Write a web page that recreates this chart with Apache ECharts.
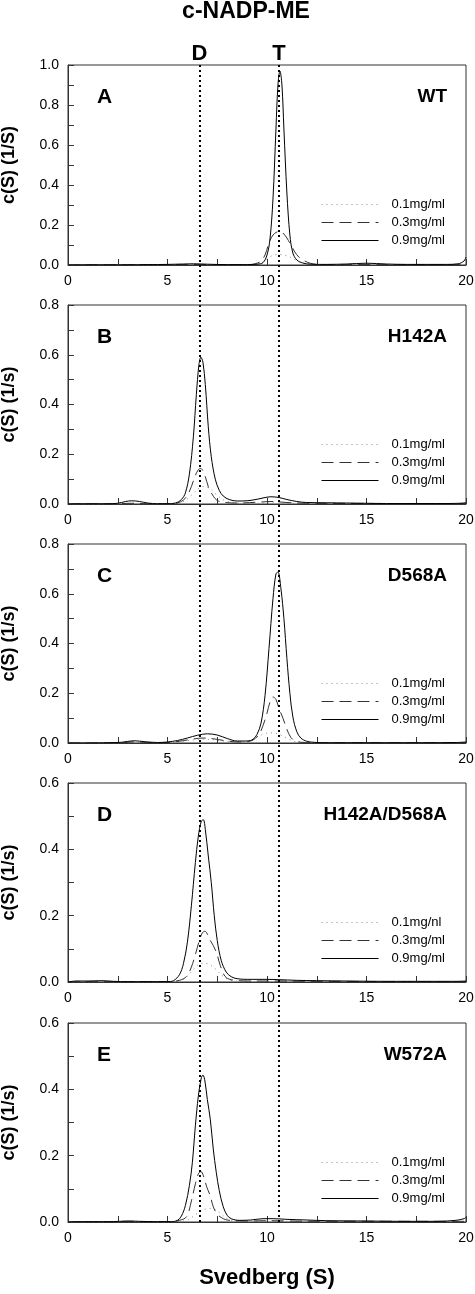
<!DOCTYPE html>
<html>
<head>
<meta charset="utf-8">
<script src="https://cdn.jsdelivr.net/npm/echarts@6/dist/echarts.min.js"></script>
<style>
html,body{margin:0;padding:0;background:#fff;}
#chart{width:475px;height:1294px;}
</style>
</head>
<body>
<div id="chart"></div>
<script>
// ---------- DATA ----------
const mainTitle = 'c-NADP-ME';
const xAxisName = 'Svedberg (S)';
const panelLetters = ['A', 'B', 'C', 'D', 'E'];
const panelNames = ['WT', 'H142A', 'D568A', 'H142A/D568A', 'W572A'];
const yAxisNames = ['c(S) (1/S)', 'c(S) (1/s)', 'c(S) (1/s)', 'c(S) (1/s)', 'c(S) (1/s)'];
const yMax = [1.0, 0.8, 0.8, 0.6, 0.6];
const xTicks = [0, 5, 10, 15, 20];
const legendNames = [
  ['0.1mg/ml', '0.3mg/ml', '0.9mg/ml'],
  ['0.1mg/ml', '0.3mg/ml', '0.9mg/ml'],
  ['0.1mg/ml', '0.3mg/ml', '0.9mg/ml'],
  ['0.1mg/nl', '0.3mg/ml', '0.9mg/ml'],
  ['0.1mg/ml', '0.3mg/ml', '0.9mg/ml']
];
const markerPositions = [6.6, 10.6];
const markerLabels = ['D', 'T'];

// Panel A (WT)
const wt_01 = [[0,0],[5,0.001],[6.5,0.002],[8,0.001],[9.4,0.002],[9.7,0.01],[9.9,0.025],[10.1,0.038],[10.3,0.048],[10.6,0.053],[10.9,0.048],[11.2,0.038],[11.5,0.022],[11.8,0.01],[12.1,0.003],[13,0.001],[20,0.002]];
const wt_03 = [[0,0],[3,0.001],[6,0.002],[6.5,0.003],[7.5,0.001],[9,0.002],[9.4,0.006],[9.7,0.02],[9.9,0.05],[10.1,0.11],[10.3,0.15],[10.5,0.165],[10.65,0.168],[10.8,0.16],[11.0,0.135],[11.2,0.1],[11.4,0.065],[11.6,0.04],[11.9,0.02],[12.2,0.008],[12.6,0.002],[13,0.001],[15,0.002],[17,0.001],[20,0.002]];
const wt_09 = [[0,0],[1,0.001],[2,0.001],[3,0.001],[4,0.002],[5,0.003],[5.8,0.005],[6.3,0.006],[7,0.004],[8,0.002],[9,0.002],[9.5,0.004],[9.8,0.012],[10.0,0.05],[10.15,0.13],[10.3,0.33],[10.45,0.68],[10.55,0.9],[10.65,0.97],[10.75,0.9],[10.85,0.68],[11.0,0.36],[11.15,0.15],[11.3,0.06],[11.5,0.025],[11.8,0.01],[12.2,0.004],[13,0.003],[14,0.005],[15,0.009],[16,0.005],[17,0.003],[18,0.003],[19,0.003],[19.6,0.006],[19.9,0.02],[20,0.04]];

// Panel B (H142A)
const h142_01 = [[0,0],[5,0.001],[5.6,0.005],[5.9,0.015],[6.2,0.035],[6.5,0.058],[6.8,0.07],[7.1,0.063],[7.4,0.042],[7.7,0.022],[8.0,0.01],[8.5,0.004],[9.5,0.003],[10.5,0.004],[12,0.002],[20,0.001]];
const h142_03 = [[0,0],[2.5,0.001],[3.2,0.003],[4,0.001],[5,0.001],[5.5,0.004],[5.8,0.016],[6.0,0.035],[6.2,0.07],[6.4,0.115],[6.55,0.138],[6.65,0.143],[6.75,0.138],[6.9,0.11],[7.05,0.07],[7.2,0.045],[7.47,0.016],[7.8,0.007],[8.5,0.004],[9.5,0.007],[10.2,0.01],[11,0.006],[12,0.003],[14,0.002],[20,0.002]];
const h142_09 = [[0,0],[0.5,0.001],[1,0.001],[2,0.001],[2.5,0.003],[2.9,0.01],[3.2,0.013],[3.6,0.01],[4.0,0.004],[4.5,0.001],[5.0,0.001],[5.4,0.004],[5.7,0.018],[5.9,0.045],[6.1,0.12],[6.3,0.27],[6.45,0.44],[6.58,0.56],[6.68,0.59],[6.78,0.57],[6.9,0.48],[7.05,0.31],[7.2,0.19],[7.4,0.1],[7.6,0.055],[7.8,0.032],[8.1,0.018],[8.5,0.012],[9.0,0.013],[9.5,0.019],[9.9,0.026],[10.2,0.029],[10.6,0.026],[11.0,0.018],[11.5,0.01],[12,0.006],[13,0.005],[14,0.004],[15,0.003],[16,0.002],[17,0.002],[18,0.002],[19,0.002],[19.7,0.003],[20,0.005]];

// Panel C (D568A)
const d568_01 = [[0,0],[3,0.001],[3.5,0.003],[4.5,0.002],[5.5,0.005],[6.3,0.012],[6.9,0.015],[7.5,0.011],[8.2,0.005],[8.8,0.005],[9.2,0.012],[9.6,0.028],[9.9,0.038],[10.2,0.041],[10.5,0.038],[10.8,0.028],[11.1,0.015],[11.4,0.006],[11.8,0.002],[13,0.001],[20,0.001]];
const d568_03 = [[0,0],[2.8,0.001],[3.3,0.005],[4,0.002],[5,0.002],[5.6,0.007],[6.2,0.015],[6.8,0.02],[7.3,0.017],[8,0.008],[8.6,0.004],[9.0,0.006],[9.3,0.012],[9.6,0.035],[9.8,0.07],[10.0,0.12],[10.15,0.165],[10.3,0.185],[10.45,0.175],[10.6,0.14],[10.8,0.1],[11.0,0.055],[11.2,0.022],[11.4,0.009],[11.7,0.003],[12.5,0.001],[20,0.001]];
const d568_09 = [[0,0],[1,0],[2,0.001],[2.7,0.003],[3.3,0.009],[3.9,0.005],[4.5,0.002],[5.0,0.004],[5.5,0.01],[6.0,0.02],[6.5,0.031],[7.0,0.037],[7.5,0.032],[8.0,0.018],[8.5,0.008],[9.0,0.008],[9.3,0.015],[9.5,0.035],[9.7,0.08],[9.9,0.19],[10.1,0.38],[10.3,0.58],[10.45,0.68],[10.55,0.687],[10.7,0.62],[10.85,0.5],[11.0,0.34],[11.15,0.2],[11.3,0.105],[11.5,0.045],[11.7,0.02],[12.0,0.007],[12.5,0.002],[13,0.001],[15,0.001],[18,0.001],[19.5,0.002],[20,0.004]];

// Panel D (H142A/D568A)
const dbl_01 = [[0,0],[5,0.001],[5.6,0.004],[5.9,0.012],[6.2,0.03],[6.5,0.05],[6.8,0.057],[7.1,0.053],[7.4,0.04],[7.7,0.022],[8.0,0.009],[8.4,0.003],[10,0.002],[20,0.001]];
const dbl_03 = [[0,0],[1.5,0.001],[5,0.001],[5.6,0.005],[5.96,0.017],[6.2,0.045],[6.42,0.087],[6.6,0.125],[6.75,0.148],[6.88,0.153],[7.0,0.145],[7.15,0.125],[7.3,0.11],[7.47,0.087],[7.65,0.05],[7.89,0.017],[8.2,0.007],[9,0.003],[10.5,0.003],[12,0.002],[20,0.001]];
const dbl_09 = [[0,0],[0.4,0.003],[1,0.003],[1.7,0.004],[2.3,0.002],[3,0.001],[4,0.001],[5,0.001],[5.3,0.004],[5.6,0.022],[5.8,0.055],[6.0,0.12],[6.2,0.23],[6.4,0.36],[6.55,0.44],[6.7,0.485],[6.8,0.489],[6.9,0.46],[7.05,0.38],[7.2,0.3],[7.35,0.2],[7.5,0.125],[7.7,0.065],[7.95,0.03],[8.2,0.016],[8.5,0.01],[9,0.008],[9.5,0.008],[10,0.008],[10.6,0.007],[11.5,0.005],[12.5,0.004],[14,0.003],[16,0.002],[18,0.002],[19.5,0.002],[20,0.003]];

// Panel E (W572A)
const w572_01 = [[0,0],[5.5,0.001],[6.0,0.006],[6.3,0.017],[6.6,0.03],[6.9,0.039],[7.15,0.041],[7.4,0.037],[7.7,0.024],[8.0,0.01],[8.3,0.004],[9,0.002],[10,0.003],[12,0.002],[20,0.001]];
const w572_03 = [[0,0],[2,0.001],[3,0.002],[4,0.001],[5.2,0.001],[5.6,0.005],[5.96,0.016],[6.21,0.066],[6.4,0.115],[6.55,0.145],[6.68,0.152],[6.8,0.14],[6.97,0.106],[7.14,0.08],[7.3,0.046],[7.45,0.028],[7.64,0.016],[8.0,0.006],[9,0.003],[10,0.004],[11,0.003],[13,0.002],[20,0.002]];
const w572_09 = [[0,0],[0.5,0.001],[2,0.001],[2.6,0.002],[3.1,0.003],[3.6,0.002],[4.5,0.001],[5.2,0.001],[5.5,0.005],[5.7,0.018],[5.9,0.05],[6.1,0.11],[6.25,0.18],[6.4,0.29],[6.55,0.38],[6.7,0.435],[6.78,0.443],[6.88,0.425],[7.0,0.37],[7.15,0.31],[7.3,0.22],[7.45,0.15],[7.6,0.095],[7.8,0.046],[8.0,0.02],[8.2,0.01],[8.6,0.005],[9.2,0.006],[9.8,0.01],[10.3,0.01],[11,0.008],[12,0.006],[13,0.004],[15,0.003],[17,0.002],[18.5,0.002],[19.5,0.005],[19.9,0.01],[20,0.014]];

const panelData = [
  [wt_01, wt_03, wt_09],
  [h142_01, h142_03, h142_09],
  [d568_01, d568_03, d568_09],
  [dbl_01, dbl_03, dbl_09],
  [w572_01, w572_03, w572_09]
];

// ---------- LAYOUT / STYLE ----------
const FONT = '"Liberation Sans", Arial, Helvetica, sans-serif';
const gridLeft = 68, gridRight = 9;
const panelTops = [65, 305, 544, 783, 1023];
const panelHeights = [200, 199, 199, 199, 199];
const axisColor = '#333';
const seriesStyles = [
  { color: '#888', width: 1, type: [1, 4] },
  { color: '#333', width: 1, type: [12, 6] },
  { color: '#000', width: 1, type: 'solid' }
];

const grids = [], xAxes = [], yAxes = [], series = [], legends = [], graphics = [];

panelTops.forEach((top, i) => {
  grids.push({
    left: gridLeft, right: gridRight, top: top, height: panelHeights[i],
    containLabel: false, outerBoundsMode: 'none',
    show: true, borderColor: axisColor, borderWidth: 1, backgroundColor: 'transparent'
  });
  xAxes.push({
    gridIndex: i, type: 'value', min: xTicks[0], max: xTicks[xTicks.length - 1], interval: 5,
    axisLine: { show: true, lineStyle: { color: axisColor, width: 1 } },
    axisTick: { show: true, inside: true, length: 6, lineStyle: { color: axisColor } },
    minorTick: { show: true, splitNumber: 2, length: 6, lineStyle: { color: axisColor } },
    splitLine: { show: false },
    axisLabel: { fontSize: 14, color: '#000', fontFamily: FONT, margin: 9 },
    name: i === panelTops.length - 1 ? xAxisName : '',
    nameLocation: 'middle', nameGap: 45,
    nameTextStyle: { fontSize: 22, fontWeight: 'bold', color: '#000', fontFamily: FONT }
  });
  yAxes.push({
    gridIndex: i, type: 'value', min: 0, max: yMax[i], interval: 0.2,
    axisLine: { show: true, lineStyle: { color: axisColor, width: 1 } },
    axisTick: { show: true, inside: true, length: 6, lineStyle: { color: axisColor } },
    minorTick: { show: true, splitNumber: 2, length: 6, lineStyle: { color: axisColor } },
    splitLine: { show: false },
    axisLabel: { fontSize: 14, color: '#000', fontFamily: FONT, margin: 9, formatter: v => v.toFixed(1) },
    name: yAxisNames[i], nameLocation: 'middle', nameGap: 50, nameRotate: 90,
    nameTextStyle: { fontSize: 18, fontWeight: 'bold', color: '#000', fontFamily: FONT }
  });
  panelData[i].forEach((d, k) => {
    series.push({
      name: legendNames[i][k], type: 'line', xAxisIndex: i, yAxisIndex: i,
      data: d, showSymbol: false, symbol: 'none', smooth: 0.35,
      lineStyle: seriesStyles[k], itemStyle: { color: seriesStyles[k].color },
      emphasis: { disabled: true }, silent: true, z: 3
    });
  });
  legends.push({
    orient: 'vertical', left: 321, top: top + 133, padding: 0,
    itemWidth: 57, itemHeight: 14, itemGap: 5,
    data: legendNames[i], selectedMode: false,
    itemStyle: { opacity: 0, borderWidth: 0 },
    lineStyle: { width: 1 },
    textStyle: { fontSize: 13, color: '#000', fontFamily: FONT, padding: [0, 0, 0, 8] }
  });
  graphics.push({
    type: 'text', left: 97, top: top + 33 - 11,
    style: { text: panelLetters[i], font: 'bold 21px ' + FONT, fill: '#000' }
  });
  graphics.push({
    type: 'text', right: 475 - 447, top: top + 32 - 10,
    style: { text: panelNames[i], font: 'bold 19px ' + FONT, fill: '#000' }
  });
});

// overlay grid for the D / T reference lines, spanning all panels
const ovIdx = panelTops.length;
const lastBottom = panelTops[ovIdx - 1] + panelHeights[ovIdx - 1];
grids.push({ left: gridLeft, right: gridRight, top: panelTops[0], height: lastBottom - panelTops[0], show: false, containLabel: false, outerBoundsMode: 'none' });
xAxes.push({ gridIndex: ovIdx, type: 'value', min: 0, max: 20, show: false });
yAxes.push({ gridIndex: ovIdx, type: 'value', min: 0, max: 1, show: false });
series.push({
  name: 'markers', type: 'line', xAxisIndex: ovIdx, yAxisIndex: ovIdx, data: [],
  silent: true, z: 10,
  markLine: {
    silent: true, symbol: 'none', animation: false,
    lineStyle: { color: '#000', width: 2, type: [2, 3] },
    label: { show: true, position: 'end', formatter: p => p.name, fontSize: 22, fontWeight: 'bold', color: '#000', fontFamily: FONT, distance: 0 },
    data: markerPositions.map((v, j) => ({ xAxis: v, name: markerLabels[j] }))
  }
});

graphics.push({
  type: 'text', x: 246, y: 12,
  style: { text: mainTitle, font: 'bold 23px ' + FONT, fill: '#000', textAlign: 'center', textVerticalAlign: 'middle' }
});

const chart = echarts.init(document.getElementById('chart'), null, { renderer: 'canvas' });
chart.setOption({
  animation: false,
  backgroundColor: '#fff',
  grid: grids, xAxis: xAxes, yAxis: yAxes, series: series,
  legend: legends, graphic: graphics
});
</script>
</body>
</html>
